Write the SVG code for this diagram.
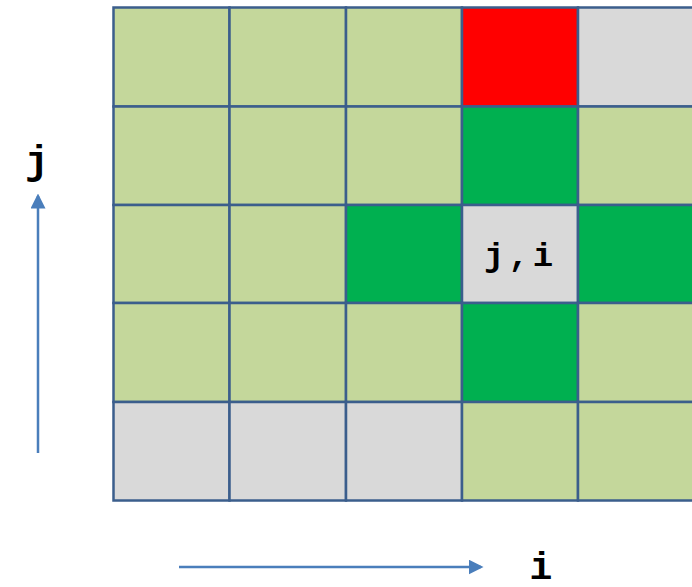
<svg xmlns="http://www.w3.org/2000/svg" width="692" height="587" viewBox="0 0 692 587">
<style>
rect{stroke:#3B5E8C;stroke-width:2.5}
.l{fill:#C4D79B}.g{fill:#D9D9D9}.r{fill:#FF0000}.d{fill:#00B050}
text{font-family:"Liberation Mono","DejaVu Sans Mono",monospace;font-weight:bold;fill:#000}
.a{stroke:#4A7EBB;stroke-width:2.5;fill:none}
</style>
<defs><marker id="ah" markerWidth="6" markerHeight="6" refX="5" refY="3" orient="auto" markerUnits="strokeWidth"><path d="M0,0L6,3L0,6z" fill="#4A7EBB"/></marker></defs>
<rect width="692" height="587" fill="#fff" style="stroke:none"/>
<g id="row0">
<rect class="l" x="113.5" y="7.5" width="116" height="99"/>
<rect class="l" x="229.5" y="7.5" width="116.5" height="99"/>
<rect class="l" x="346" y="7.5" width="116" height="99"/>
<rect class="r" x="462" y="7.5" width="116" height="99"/>
<rect class="g" x="578" y="7.5" width="116" height="99"/>
</g>
<g id="row1">
<rect class="l" x="113.5" y="106.5" width="116" height="98.5"/>
<rect class="l" x="229.5" y="106.5" width="116.5" height="98.5"/>
<rect class="l" x="346" y="106.5" width="116" height="98.5"/>
<rect class="d" x="462" y="106.5" width="116" height="98.5"/>
<rect class="l" x="578" y="106.5" width="116" height="98.5"/>
</g>
<g id="row2">
<rect class="l" x="113.5" y="205" width="116" height="98"/>
<rect class="l" x="229.5" y="205" width="116.5" height="98"/>
<rect class="d" x="346" y="205" width="116" height="98"/>
<g id="cell-ji"><rect class="g" x="462" y="205" width="116" height="98"/>
<text x="484" y="266" font-size="34" letter-spacing="4">j,i</text></g>
<rect class="d" x="578" y="205" width="116" height="98"/>
</g>
<g id="row3">
<rect class="l" x="113.5" y="303" width="116" height="99"/>
<rect class="l" x="229.5" y="303" width="116.5" height="99"/>
<rect class="l" x="346" y="303" width="116" height="99"/>
<rect class="d" x="462" y="303" width="116" height="99"/>
<rect class="l" x="578" y="303" width="116" height="99"/>
</g>
<g id="row4">
<rect class="g" x="113.5" y="402" width="116" height="98.5"/>
<rect class="g" x="229.5" y="402" width="116.5" height="98.5"/>
<rect class="g" x="346" y="402" width="116" height="98.5"/>
<rect class="l" x="462" y="402" width="116" height="98.5"/>
<rect class="l" x="578" y="402" width="116" height="98.5"/>
</g>
<g id="connectors">
<line class="a" x1="38" y1="453" x2="38" y2="196" marker-end="url(#ah)"/>
<line class="a" x1="179" y1="567" x2="481" y2="567" marker-end="url(#ah)"/>
</g>
<g id="label-j"><text x="37" y="174" font-size="40" text-anchor="middle">j</text></g>
<g id="label-i"><text x="541" y="579" font-size="38" text-anchor="middle">i</text></g>
</svg>
